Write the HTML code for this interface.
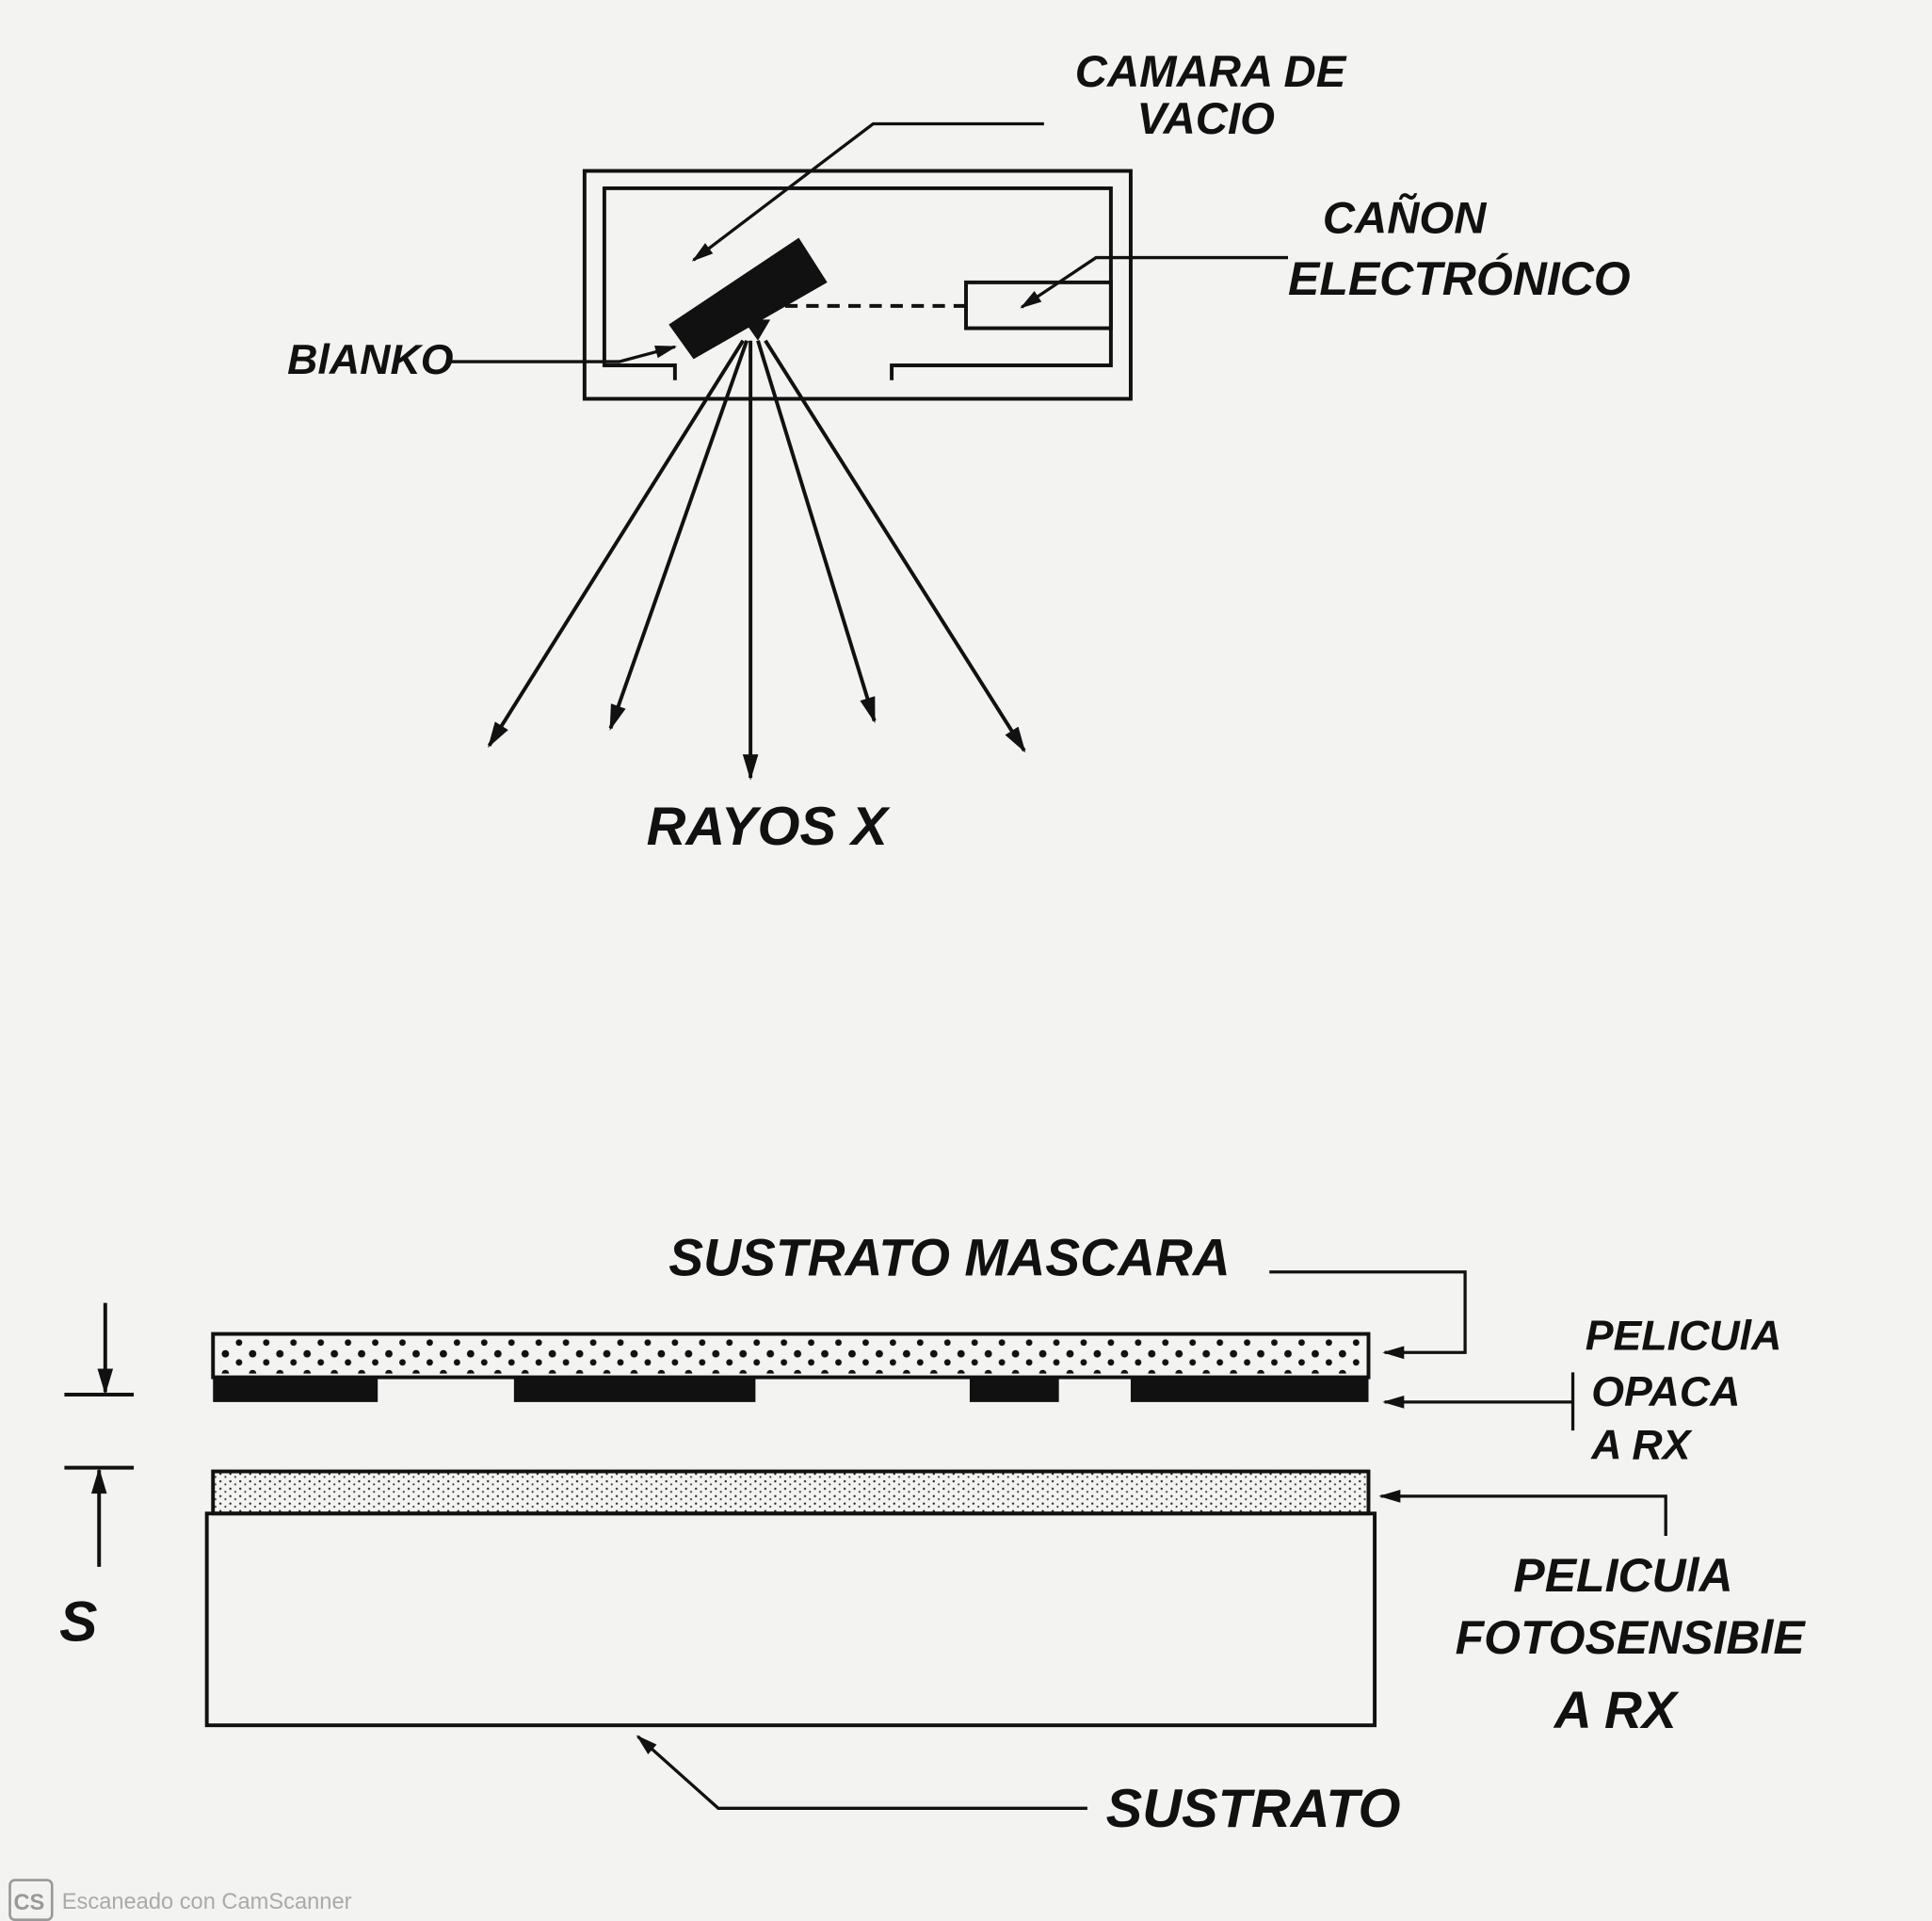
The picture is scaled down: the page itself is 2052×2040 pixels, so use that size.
<!DOCTYPE html>
<html><head><meta charset="utf-8"><style>
html,body{margin:0;padding:0;background:#f3f3f1;}
svg{display:block}
text{font-family:"Liberation Sans",sans-serif;font-style:italic;font-weight:bold;fill:#111}
</style></head><body>
<svg width="2052" height="2040" viewBox="0 0 1560 1551" preserveAspectRatio="none" xmlns="http://www.w3.org/2000/svg">
<defs>
<pattern id="dots" width="22" height="16" patternUnits="userSpaceOnUse"><circle cx="6" cy="5" r="3" fill="#111"/><circle cx="17" cy="12" r="2.6" fill="#111"/></pattern>
<pattern id="stip" width="8" height="6" patternUnits="userSpaceOnUse"><circle cx="2" cy="2" r="0.9" fill="#222"/><circle cx="6" cy="4.5" r="0.8" fill="#333"/></pattern>
<marker id="ah" viewBox="0 0 10 10" refX="9" refY="5" markerWidth="9" markerHeight="7" orient="auto"><path d="M0,2 L10,5 L0,8 Z" fill="#111"/></marker>
</defs>
<rect width="1560" height="1551" fill="#f3f3f1"/>
<g stroke="#111" stroke-width="3" fill="none">
<rect x="472" y="138" width="441" height="184"/>
<path d="M545,307 L545,295 L488,295 L488,152 L897,152 L897,295 L720,295 L720,307"/>
<rect x="780" y="228" width="117" height="37"/>
</g>
<polygon points="540,262 645,192 668,228 560,290" fill="#111"/>
<path d="M600,258 L622,258 L612,275Z" fill="#111"/>
<line x1="780" y1="247" x2="625" y2="247" stroke="#111" stroke-width="3" stroke-dasharray="10,7"/>
<g stroke="#111" stroke-width="3" marker-end="url(#ah)">
<line x1="600" y1="275" x2="395" y2="602"/>
<line x1="603" y1="275" x2="493" y2="588"/>
<line x1="606" y1="275" x2="606" y2="628"/>
<line x1="612" y1="275" x2="706" y2="582"/>
<line x1="618" y1="275" x2="827" y2="606"/>
</g>
<g stroke="#111" stroke-width="2.5" fill="none">
<path d="M843,100 L705,100 L560,210" marker-end="url(#ah)"/>
<path d="M1040,208 L885,208 L825,248" marker-end="url(#ah)"/>
<path d="M360,292 L500,292 L545,280" marker-end="url(#ah)"/>
</g>
<text x="868" y="70" font-size="36">CAMARA DE</text>
<text x="918" y="108" font-size="36">VACIO</text>
<text x="1068" y="188" font-size="36">CAÑON</text>
<text x="1040" y="238" font-size="38">ELECTRÓNICO</text>
<text x="232" y="302" font-size="34">BlANKO</text>
<text x="522" y="682" font-size="44">RAYOS X</text>

<g>
<rect x="172" y="1077" width="933" height="35" fill="#f3f3f1" stroke="#111" stroke-width="3"/>
<rect x="176" y="1081" width="925" height="28" fill="url(#dots)"/>
</g>
<g fill="#111">
<rect x="172" y="1112" width="133" height="20"/>
<rect x="415" y="1112" width="195" height="20"/>
<rect x="783" y="1112" width="72" height="20"/>
<rect x="913" y="1112" width="192" height="20"/>
</g>
<g>
<rect x="172" y="1188" width="933" height="34" fill="url(#stip)" stroke="#111" stroke-width="3"/>
</g>
<rect x="167" y="1222" width="943" height="171" fill="none" stroke="#111" stroke-width="3"/>
<g stroke="#111" stroke-width="3">
<line x1="52" y1="1126" x2="108" y2="1126"/>
<line x1="85" y1="1052" x2="85" y2="1124" marker-end="url(#ah)"/>
<line x1="52" y1="1185" x2="108" y2="1185"/>
<line x1="80" y1="1265" x2="80" y2="1187" marker-end="url(#ah)"/>
</g>
<text x="48" y="1325" font-size="46">S</text>
<g stroke="#111" stroke-width="2.5" fill="none">
<path d="M1025,1027 L1183,1027 L1183,1092 L1118,1092" marker-end="url(#ah)"/>
<path d="M1270,1108 L1270,1155 M1270,1132 L1118,1132" marker-end="url(#ah)"/>
<path d="M1345,1240 L1345,1208 L1115,1208" marker-end="url(#ah)"/>
<path d="M878,1460 L580,1460 L515,1402" marker-end="url(#ah)"/>
</g>
<text x="540" y="1030" font-size="42">SUSTRATO MASCARA</text>
<text x="1280" y="1090" font-size="34">PELICUlA</text>
<text x="1285" y="1135" font-size="34">OPACA</text>
<text x="1285" y="1178" font-size="34">A RX</text>
<text x="1222" y="1285" font-size="38">PELICUlA</text>
<text x="1175" y="1335" font-size="38">FOTOSENSIBlE</text>
<text x="1255" y="1395" font-size="42">A RX</text>
<text x="893" y="1475" font-size="44">SUSTRATO</text>
<g>
<rect x="8" y="1518" width="34" height="32" rx="4" fill="none" stroke="#999" stroke-width="2"/>
<text x="11" y="1542" font-size="18" style="font-style:normal;fill:#999">CS</text>
<text x="50" y="1541" font-size="18" style="font-style:normal;font-weight:normal;fill:#aaa">Escaneado con CamScanner</text>
</g>
</svg>
</body></html>
